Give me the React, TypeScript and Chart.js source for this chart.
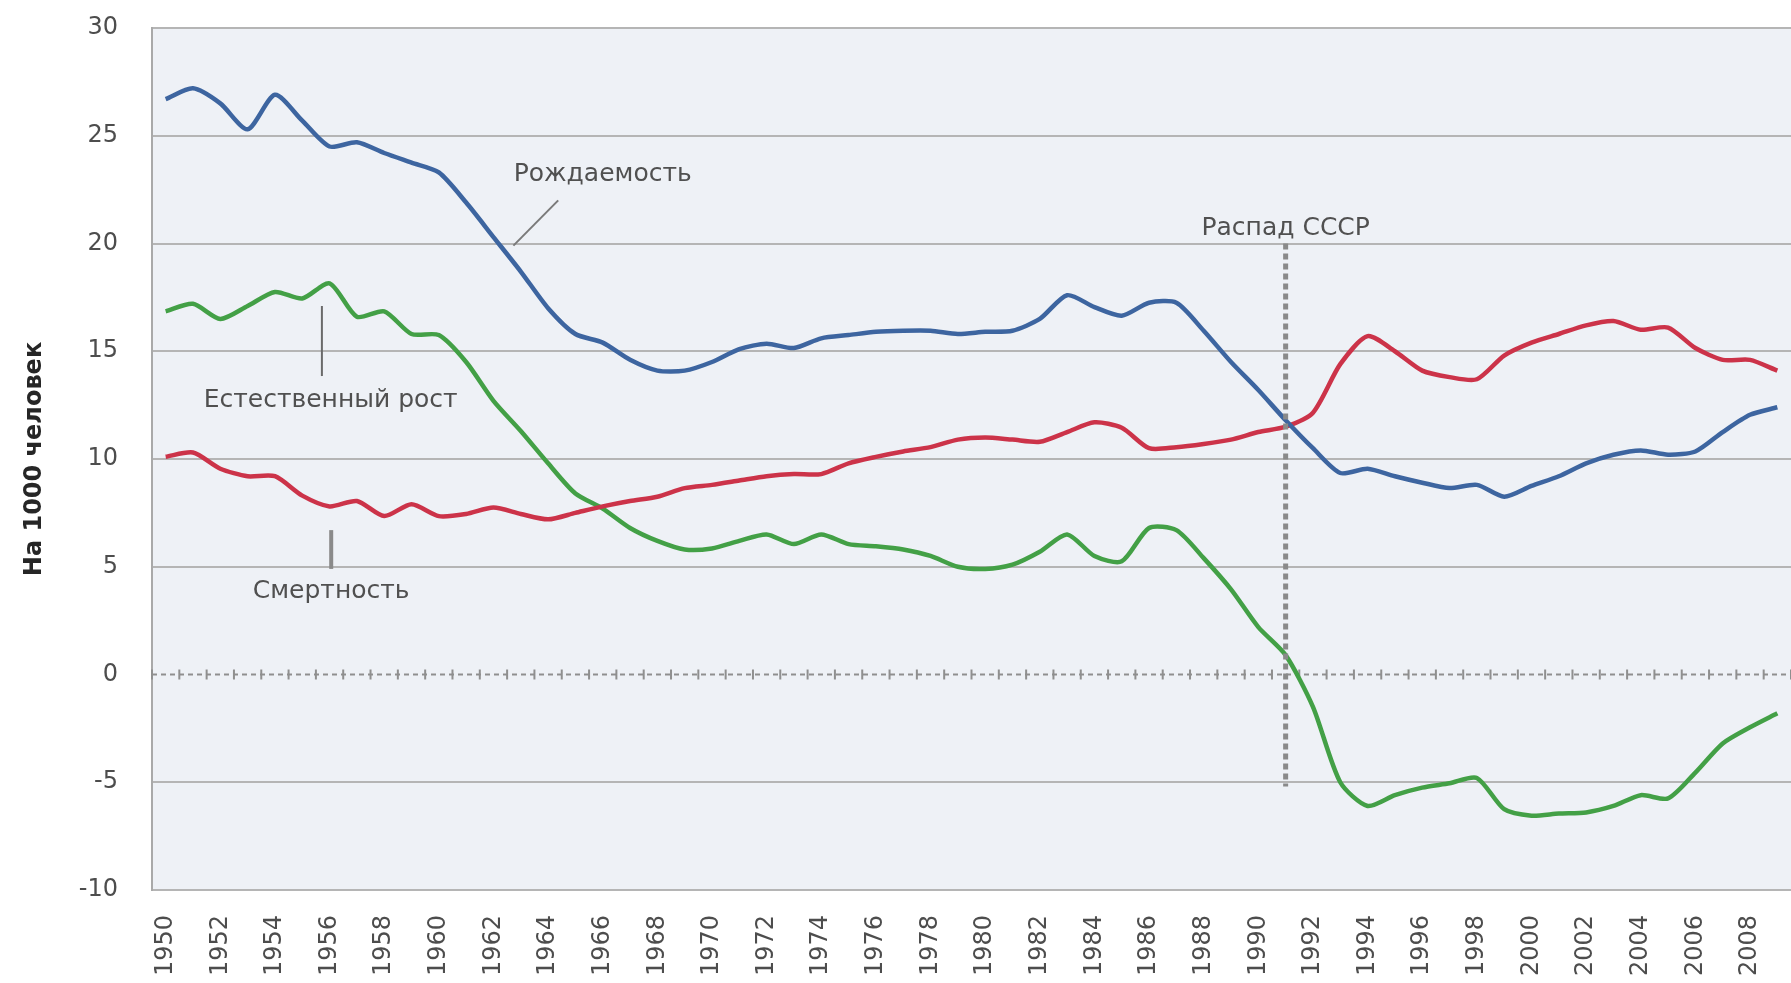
import React, { useEffect, useRef } from 'react';
import { Chart, registerables } from 'chart.js';

Chart.register(...registerables);

const FONT = '"DejaVu Sans", "Noto Sans", sans-serif';

const years = [
  '1950', '1951', '1952', '1953', '1954', '1955', '1956', '1957', '1958', '1959',
  '1960', '1961', '1962', '1963', '1964', '1965', '1966', '1967', '1968', '1969',
  '1970', '1971', '1972', '1973', '1974', '1975', '1976', '1977', '1978', '1979',
  '1980', '1981', '1982', '1983', '1984', '1985', '1986', '1987', '1988', '1989',
  '1990', '1991', '1992', '1993', '1994', '1995', '1996', '1997', '1998', '1999',
  '2000', '2001', '2002', '2003', '2004', '2005', '2006', '2007', '2008', '2009',
];

const shownYearLabels = [
  '1950', '1952', '1954', '1956', '1958', '1960', '1962', '1964', '1966', '1968',
  '1970', '1972', '1974', '1976', '1978', '1980', '1982', '1984', '1986', '1988',
  '1990', '1992', '1994', '1996', '1998', '2000', '2002', '2004', '2006', '2008',
];

// Рождаемость
const births = [
  26.7, 27.2, 26.5, 25.3, 26.9, 25.7, 24.5, 24.7, 24.2, 23.75,
  23.3, 21.9, 20.3, 18.7, 17.0, 15.8, 15.4, 14.6, 14.1, 14.1,
  14.5, 15.1, 15.35, 15.15, 15.6, 15.75, 15.9, 15.95, 15.95, 15.8,
  15.9, 15.95, 16.5, 17.6, 17.05, 16.65, 17.25, 17.25, 15.95, 14.5,
  13.2, 11.8, 10.5, 9.35, 9.55, 9.2, 8.9, 8.65, 8.8, 8.25,
  8.75, 9.2, 9.8, 10.2, 10.4, 10.2, 10.35, 11.25, 12.05, 12.4,
];

// Смертность
const deaths = [
  10.1, 10.3, 9.55, 9.2, 9.2, 8.3, 7.8, 8.05, 7.35, 7.9,
  7.35, 7.45, 7.75, 7.45, 7.2, 7.5, 7.8, 8.05, 8.25, 8.65,
  8.8, 9.0, 9.2, 9.3, 9.3, 9.8, 10.1, 10.35, 10.55, 10.9,
  11.0, 10.9, 10.8, 11.25, 11.7, 11.45, 10.5, 10.55, 10.7, 10.9,
  11.25, 11.5, 12.15, 14.4, 15.7, 15.0, 14.1, 13.8, 13.7, 14.8,
  15.4, 15.8, 16.2, 16.4, 16.0, 16.1, 15.15, 14.6, 14.6, 14.1,
];

// Естественный рост
const growth = [
  16.85, 17.2, 16.5, 17.1, 17.75, 17.45, 18.15, 16.6, 16.85, 15.8,
  15.75, 14.5, 12.7, 11.3, 9.8, 8.4, 7.7, 6.8, 6.2, 5.8,
  5.85, 6.2, 6.5, 6.05, 6.5, 6.05, 5.95, 5.8, 5.5, 5.0,
  4.9, 5.1, 5.7, 6.5, 5.5, 5.25, 6.8, 6.7, 5.4, 3.95,
  2.2, 0.9, -1.5, -5.0, -6.1, -5.6, -5.25, -5.05, -4.8, -6.25,
  -6.55, -6.45, -6.4, -6.1, -5.6, -5.75, -4.55, -3.2, -2.45, -1.8,
];

const yMin = -10;
const yMax = 30;
const yStep = 5;

const yAxisTitle = 'На 1000 человек';

// Annotations, positioned in data units (category index, value)
const labelBirths = { text: 'Рождаемость', x: 16.0, y: 23.2 };
const labelCollapse = { text: 'Распад СССР', x: 41, y: 20.7 };
const labelGrowth = { text: 'Естественный рост', x: 6.04, y: 12.7 };
const labelDeaths = { text: 'Смертность', x: 6.06, y: 3.83 };

const leaderBirths = [[14.37, 22.0], [12.73, 19.9]];
const leaderGrowth = [[5.72, 17.1], [5.72, 13.85]];
const leaderDeaths = [[6.06, 6.7], [6.06, 4.9]];

const collapseIndex = 41;
const collapseTop = 20.0;
const collapseBottom = -5.2;

const overlayPlugin = {
  id: 'overlay',
  beforeDraw(chart: any) {
    const { ctx, chartArea: a } = chart;
    ctx.save();
    ctx.fillStyle = '#eef1f6';
    ctx.fillRect(a.left, a.top, a.right - a.left, a.bottom - a.top);
    ctx.restore();
  },
  beforeDatasetsDraw(chart: any) {
    const { ctx, chartArea: a } = chart;
    const xs = chart.scales.x;
    const ys = chart.scales.y;
    const y0 = ys.getPixelForValue(0);
    ctx.save();
    ctx.strokeStyle = '#8f8f8f';
    ctx.lineWidth = 2;
    ctx.setLineDash([5, 4]);
    ctx.beginPath();
    ctx.moveTo(a.left, y0);
    ctx.lineTo(a.right, y0);
    ctx.stroke();
    ctx.setLineDash([]);
    ctx.lineWidth = 2;
    ctx.beginPath();
    for (let i = 0; i <= years.length; i++) {
      const px = xs.getPixelForValue(i - 0.5);
      ctx.moveTo(px, y0 - 5);
      ctx.lineTo(px, y0 + 5);
    }
    ctx.stroke();
    ctx.restore();
  },
  afterDatasetsDraw(chart: any) {
    const { ctx } = chart;
    const xs = chart.scales.x;
    const ys = chart.scales.y;
    const X = (v: number) => xs.getPixelForValue(v);
    const Y = (v: number) => ys.getPixelForValue(v);
    ctx.save();

    // collapse of USSR dashed line
    ctx.strokeStyle = '#8a8a8a';
    ctx.lineWidth = 5;
    ctx.setLineDash([6, 4]);
    ctx.beginPath();
    ctx.moveTo(X(collapseIndex), Y(collapseTop));
    ctx.lineTo(X(collapseIndex), Y(collapseBottom));
    ctx.stroke();
    ctx.setLineDash([]);

    // leader lines
    const drawLeader = (pts: number[][], w: number, color: string) => {
      ctx.strokeStyle = color;
      ctx.lineWidth = w;
      ctx.beginPath();
      ctx.moveTo(X(pts[0][0]), Y(pts[0][1]));
      ctx.lineTo(X(pts[1][0]), Y(pts[1][1]));
      ctx.stroke();
    };
    drawLeader(leaderBirths, 2, '#7a7a7a');
    drawLeader(leaderGrowth, 2, '#6a6a6a');
    drawLeader(leaderDeaths, 4, '#8a8a8a');

    // texts
    ctx.fillStyle = '#505050';
    ctx.font = `25px ${FONT}`;
    ctx.textAlign = 'center';
    ctx.textBaseline = 'middle';
    [labelBirths, labelCollapse, labelGrowth, labelDeaths].forEach((l) => {
      ctx.fillText(l.text, X(l.x), Y(l.y));
    });
    ctx.restore();
  },
};

export default function App() {
  const canvasRef = useRef<HTMLCanvasElement | null>(null);

  useEffect(() => {
    document.body.style.margin = '0';
    const canvas = canvasRef.current;
    if (!canvas) return;
    const chart = new Chart(canvas, {
      type: 'line',
      data: {
        labels: years,
        datasets: [
          {
            label: 'Рождаемость',
            data: births,
            borderColor: '#3d65a0',
            backgroundColor: '#3d65a0',
            borderWidth: 4.5,
            pointRadius: 0,
            tension: 0.25,
          },
          {
            label: 'Смертность',
            data: deaths,
            borderColor: '#cc3349',
            backgroundColor: '#cc3349',
            borderWidth: 4.5,
            pointRadius: 0,
            tension: 0.25,
          },
          {
            label: 'Естественный рост',
            data: growth,
            borderColor: '#43a046',
            backgroundColor: '#43a046',
            borderWidth: 4.5,
            pointRadius: 0,
            tension: 0.25,
          },
        ],
      },
      options: {
        responsive: false,
        animation: false,
        layout: { padding: { top: 28, left: 0, right: 0, bottom: 0 } },
        plugins: {
          legend: { display: false },
          tooltip: { enabled: false },
        },
        scales: {
          x: {
            offset: true,
            grid: { display: false, drawTicks: false },
            border: { display: false },
            ticks: {
              autoSkip: false,
              maxRotation: 90,
              minRotation: 90,
              padding: 25,
              color: '#4d4d4d',
              font: { family: FONT, size: 24 },
              callback: (_v: any, i: number) =>
                shownYearLabels.includes(years[i]) ? years[i] : '',
            },
            afterFit: (s: any) => {
              s.height = 93;
              s.paddingLeft = 0;
              s.paddingRight = 0;
            },
          },
          y: {
            min: yMin,
            max: yMax,
            ticks: {
              stepSize: yStep,
              padding: 34,
              color: '#4d4d4d',
              font: { family: FONT, size: 24 },
            },
            grid: {
              drawTicks: false,
              lineWidth: 2,
              color: (c: any) => (c.tick && c.tick.value === 0 ? 'rgba(0,0,0,0)' : '#b5b5b5'),
            },
            border: { display: true, color: '#a9a9a9', width: 2 },
            title: {
              display: true,
              text: yAxisTitle,
              color: '#262626',
              font: { family: FONT, size: 24, weight: 'bold' },
              padding: { top: 20, bottom: 0 },
            },
            afterFit: (s: any) => {
              s.width = 152;
              s.paddingTop = 0;
              s.paddingBottom = 0;
            },
          },
        },
      },
      plugins: [overlayPlugin],
    } as any);
    return () => chart.destroy();
  }, []);

  return (
    <div style={{ width: 1791, height: 983 }}>
      <canvas ref={canvasRef} width={1791} height={983} style={{ width: 1791, height: 983, display: 'block' }} />
    </div>
  );
}
